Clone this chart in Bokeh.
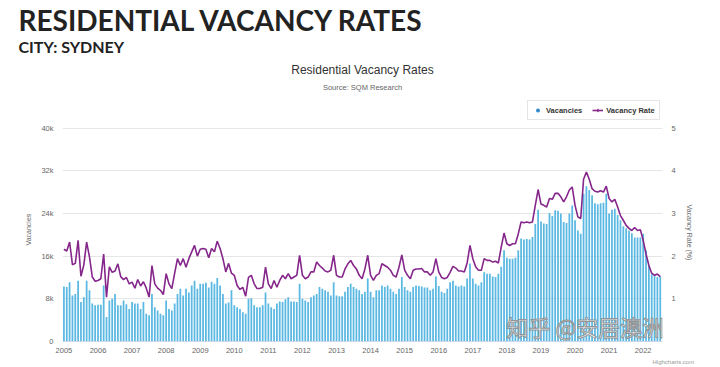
from bokeh.plotting import figure
from bokeh.models import (Range1d, LinearAxis, FixedTicker, Legend, Label,
                          LegendItem, Title, ColumnDataSource)
from bokeh.embed import file_html
from bokeh.resources import INLINE

# ---------------- data (monthly, Jan 2005 - Jul 2022) ----------------
vac_2005 = [10300, 10200, 11100, 8600, 8900, 11400, 7400, 8300, 11400, 9600, 7100, 6800]
vac_2006 = [6900, 6900, 10500, 4600, 7700, 8000, 8900, 6800, 6800, 7700, 7000, 6100]
vac_2007 = [7400, 7100, 7100, 6100, 7400, 5200, 4900, 8900, 6400, 5800, 5200, 4900]
vac_2008 = [7700, 6100, 5800, 7100, 8900, 9900, 8600, 9900, 9200, 10500, 11400, 9900]
vac_2009 = [10800, 10800, 11000, 10100, 11200, 10800, 11900, 10500, 8900, 7100, 7300, 9600]
vac_2010 = [6800, 6400, 6100, 5500, 5200, 8000, 8100, 6800, 6400, 6400, 6800, 9200]
vac_2011 = [7100, 6400, 6100, 7100, 7500, 7400, 7900, 8300, 7500, 7500, 7400, 10800]
vac_2012 = [8000, 7700, 7400, 8300, 8600, 8900, 10200, 9900, 9600, 9300, 8600, 11100]
vac_2013 = [8600, 8500, 8500, 9300, 10200, 10800, 10200, 9900, 9600, 8900, 9300, 11800]
vac_2014 = [9300, 8300, 9600, 9600, 10500, 10200, 10500, 9900, 9300, 8900, 9900, 12100]
vac_2015 = [10200, 9600, 9300, 10200, 10500, 10400, 10300, 10100, 10100, 9600, 9900, 12200]
vac_2016 = [10400, 9300, 9100, 9900, 11100, 11400, 10500, 10300, 10500, 10300, 11800, 14600]
vac_2017 = [11800, 10800, 10500, 11100, 13000, 12700, 12700, 12200, 12100, 12700, 14000, 17100]
vac_2018 = [15700, 15500, 15500, 15700, 17100, 19300, 19100, 19200, 19100, 19600, 22000, 24700]
vac_2019 = [22500, 22100, 22000, 24100, 23500, 24600, 24500, 24000, 22400, 22200, 24000, 25500]
vac_2020 = [22700, 20800, 20200, 27700, 29100, 28400, 27400, 25900, 25700, 25900, 26000, 27700]
vac_2021 = [24000, 24700, 24900, 23700, 22700, 21600, 21200, 20800, 20300, 19500, 19500, 19500]
vac_2022 = [20200, 17100, 14300, 12600, 12400, 12100, 12200]

rate_2005 = [2.16, 2.12, 2.33, 1.80, 1.83, 2.37, 1.53, 1.79, 2.33, 1.98, 1.51, 1.41]
rate_2006 = [1.43, 1.47, 2.05, 1.04, 1.75, 1.62, 1.65, 1.82, 1.52, 1.45, 1.50, 1.35]
rate_2007 = [1.39, 1.25, 1.45, 1.30, 1.40, 1.25, 1.04, 1.78, 1.35, 1.25, 1.20, 1.10]
rate_2008 = [1.59, 1.35, 1.24, 1.60, 1.94, 1.78, 1.94, 1.74, 1.94, 2.10, 2.25, 2.00]
rate_2009 = [2.16, 2.18, 2.16, 1.96, 2.18, 2.10, 2.35, 2.18, 1.94, 1.63, 1.83, 1.60]
rate_2010 = [1.55, 1.31, 1.22, 1.27, 1.06, 1.50, 1.55, 1.35, 1.24, 1.24, 1.27, 1.74]
rate_2011 = [1.35, 1.24, 1.43, 1.27, 1.43, 1.55, 1.47, 1.59, 1.47, 1.51, 1.55, 2.02]
rate_2012 = [1.55, 1.47, 1.51, 1.63, 1.63, 1.86, 1.78, 1.72, 1.65, 1.63, 1.67, 2.02]
rate_2013 = [1.55, 1.51, 1.51, 1.70, 1.82, 1.90, 1.78, 1.70, 1.55, 1.47, 1.70, 2.02]
rate_2014 = [1.55, 1.43, 1.55, 1.59, 1.82, 1.78, 1.74, 1.67, 1.55, 1.51, 1.74, 2.03]
rate_2015 = [1.67, 1.55, 1.47, 1.67, 1.70, 1.70, 1.71, 1.63, 1.63, 1.55, 1.63, 1.94]
rate_2016 = [1.63, 1.50, 1.47, 1.50, 1.62, 1.76, 1.72, 1.65, 1.65, 1.63, 1.84, 2.25]
rate_2017 = [1.94, 1.75, 1.67, 1.67, 1.94, 1.90, 1.90, 1.86, 1.88, 1.84, 2.21, 2.54]
rate_2018 = [2.29, 2.25, 2.29, 2.29, 2.52, 2.80, 2.78, 2.80, 2.78, 2.80, 3.19, 3.56]
rate_2019 = [3.22, 3.19, 3.15, 3.35, 3.33, 3.47, 3.47, 3.39, 3.27, 3.39, 3.55, 3.62]
rate_2020 = [3.19, 2.92, 2.88, 3.80, 3.97, 3.80, 3.58, 3.52, 3.50, 3.53, 3.50, 3.64]
rate_2021 = [3.35, 3.27, 3.33, 3.15, 2.95, 2.84, 2.72, 2.65, 2.60, 2.67, 2.60, 2.62]
rate_2022 = [2.37, 2.05, 1.78, 1.60, 1.55, 1.58, 1.52]

year_ticks = list(range(2005, 2023))
vac_ticks = [0, 8000, 16000, 24000, 32000, 40000]
vac_tick_labels = ["0", "8k", "16k", "24k", "32k", "40k"]
rate_ticks = [1, 2, 3, 4, 5]

vacancies = (vac_2005 + vac_2006 + vac_2007 + vac_2008 + vac_2009 + vac_2010 +
             vac_2011 + vac_2012 + vac_2013 + vac_2014 + vac_2015 + vac_2016 +
             vac_2017 + vac_2018 + vac_2019 + vac_2020 + vac_2021 + vac_2022)
rates = (rate_2005 + rate_2006 + rate_2007 + rate_2008 + rate_2009 + rate_2010 +
         rate_2011 + rate_2012 + rate_2013 + rate_2014 + rate_2015 + rate_2016 +
         rate_2017 + rate_2018 + rate_2019 + rate_2020 + rate_2021 + rate_2022)
months = [2005 + i / 12.0 for i in range(len(vacancies))]

src = ColumnDataSource(dict(x=months, vac=vacancies, rate=rates))

# ---------------- layout ----------------
W, H = 720, 367
FRAME_L, FRAME_R, FRAME_B = 62, 662, 341
FRAME_T = 57.6                       # top of frame (set by the two headline titles)
PLOT_T = 128                         # pixel row of the 40k / 5% gridline
VAC_MAX, RATE_MAX = 40000, 5
Y_TOP = VAC_MAX * (FRAME_B - FRAME_T) / (FRAME_B - PLOT_T)
R_TOP = RATE_MAX * (FRAME_B - FRAME_T) / (FRAME_B - PLOT_T)
X0 = months[0] - 0.5 / 12
X1 = months[-1] + 0.8 / 12
PX_PER_X = (FRAME_R - FRAME_L) / (X1 - X0)


def xd(px):
    return X0 + (px - FRAME_L) / PX_PER_X


def yd(py):
    return (FRAME_B - py) * VAC_MAX / (FRAME_B - PLOT_T)


BAR = "#5AB8E2"
PURPLE = "#85268B"
FONT = "Liberation Sans"
GREY = "#666666"
NAN = float("nan")

p = figure(width=W, height=H, output_backend="svg", toolbar_location=None,
           x_range=Range1d(X0, X1), y_range=Range1d(0, Y_TOP),
           min_border_left=FRAME_L, min_border_right=W - FRAME_R,
           min_border_top=40, min_border_bottom=H - FRAME_B)
p.outline_line_color = None
p.border_fill_color = "white"
p.background_fill_color = "white"
p.extra_y_ranges = {"rate": Range1d(0, R_TOP)}

p.vbar(x="x", top="vac", width=0.62 / 12, source=src,
       fill_color=BAR, line_color=None)
line = p.line(x="x", y="rate", source=src, y_range_name="rate",
              line_color=PURPLE, line_width=1.6)

# axes
xa = p.xaxis[0]
xa.ticker = FixedTicker(ticks=year_ticks)
xa.axis_line_color = "#ccd6eb"
xa.major_tick_line_color = None
xa.minor_tick_line_color = None
xa.major_tick_out = 0
xa.minor_tick_out = 0
xa.major_label_text_font = FONT
xa.major_label_text_font_size = "7.5px"
xa.major_label_text_color = GREY
xa.major_label_standoff = 6

ya = p.yaxis[0]
ya.ticker = FixedTicker(ticks=vac_ticks)
ya.major_label_overrides = {t: l for t, l in zip(vac_ticks, vac_tick_labels)}
ya.axis_line_color = None
ya.major_tick_line_color = None
ya.minor_tick_line_color = None
ya.major_tick_out = 0
ya.minor_tick_out = 0
ya.major_label_text_font = FONT
ya.major_label_text_font_size = "7.5px"
ya.major_label_text_color = GREY
ya.major_label_standoff = 9

ra = LinearAxis(y_range_name="rate", ticker=FixedTicker(ticks=rate_ticks))
ra.axis_line_color = None
ra.major_tick_line_color = None
ra.minor_tick_line_color = None
ra.major_tick_out = 0
ra.minor_tick_out = 0
ra.major_label_text_font = FONT
ra.major_label_text_font_size = "7.5px"
ra.major_label_text_color = GREY
ra.major_label_standoff = 9
p.add_layout(ra, "right")

p.xgrid.grid_line_color = None
p.ygrid.grid_line_color = "#e6e6e6"

# axis titles (side-panel titles, shifted to centre on the 0..40k span)
p.add_layout(Title(text="Vacancies", align="left", offset=96, text_font=FONT,
                   text_font_size="7px", text_font_style="normal",
                   text_color=GREY, standoff=13), "left")
p.add_layout(Title(text="Vacancy Rate (%)", align="left", offset=147, text_font=FONT,
                   text_font_size="7px", text_font_style="normal",
                   text_color=GREY, standoff=14), "right")

# legend inside the (extended) plot frame, above the 40k line
dot = p.scatter(x=[NAN], y=[NAN], marker="circle", size=7, fill_color="#2F8ACB",
                line_color=None)
dia = p.scatter(x=[NAN], y=[NAN], marker="diamond", size=8, fill_color=PURPLE,
                line_color=None, y_range_name="rate")
legend = Legend(items=[LegendItem(label="Vacancies", renderers=[dot]),
                       LegendItem(label="Vacancy Rate", renderers=[line, dia])],
                location=(527 - FRAME_L, FRAME_B - 120), orientation="horizontal",
                padding=4, spacing=10, margin=0, glyph_width=11, glyph_height=10,
                label_height=10, label_standoff=3,
                label_text_font=FONT, label_text_font_size="7.5px",
                label_text_font_style="bold", label_text_color="#333333",
                border_line_color="#cccccc", border_line_width=1,
                background_fill_color="white")
p.add_layout(legend)

# chart title / subtitle
xmid = (X0 + X1) / 2
p.add_layout(Label(x=xmid, y=yd(70), text="Residential Vacancy Rates",
                   text_align="center", text_baseline="middle",
                   text_font=FONT, text_font_size="12px", text_color="#333333"))
p.add_layout(Label(x=xmid, y=yd(88), text="Source: SQM Research",
                   text_align="center", text_baseline="middle",
                   text_font=FONT, text_font_size="7.5px", text_color=GREY))

# watermark
p.add_layout(Label(x=xd(506), y=0, text="知乎 @安居澳洲",
                   text_align="left", text_baseline="bottom",
                   text_font="Noto Sans CJK SC", text_font_size="22px",
                   text_color="white", text_alpha=0.9,
                   text_outline_color="#8a8a8a"))

# credits
p.add_layout(Title(text="Highcharts.com", align="left", offset=652 - FRAME_L,
                   text_font=FONT, text_font_size="6px", text_font_style="normal",
                   text_color="#999999", standoff=2), "below")

# page headline
p.add_layout(Title(text="CITY: SYDNEY", align="left", offset=18 - FRAME_L,
                   vertical_align="top",
                   text_font="Lato", text_font_style="bold",
                   text_font_size="16px", text_color="#222222", standoff=0), "above")
p.add_layout(Title(text="RESIDENTIAL VACANCY RATES", align="left", offset=18 - FRAME_L,
                   text_font="Lato", text_font_style="bold",
                   text_font_size="28px", text_color="#222222", standoff=0), "above")

open("out.html", "w").write(file_html(p, INLINE))
